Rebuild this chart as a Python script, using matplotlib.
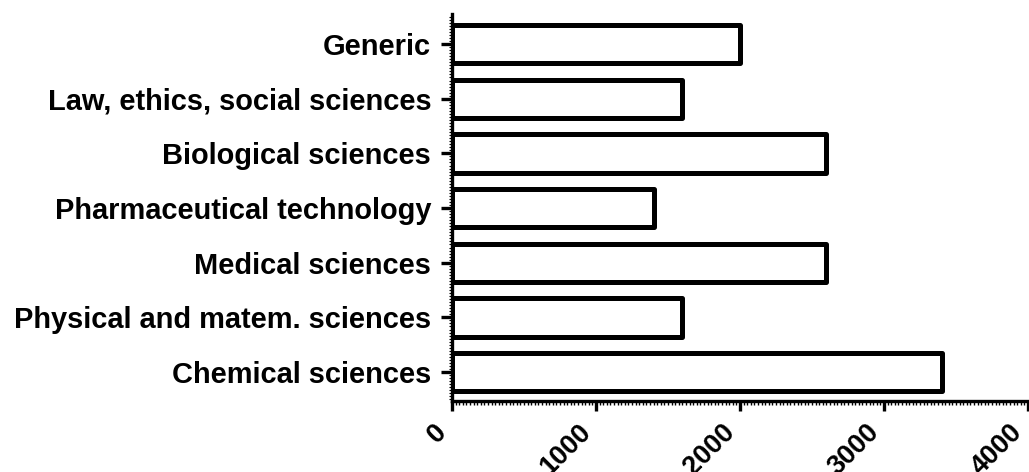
import matplotlib
matplotlib.use('Agg')
import matplotlib.pyplot as plt
from matplotlib.ticker import MultipleLocator

CATEGORIES = [
    'Chemical sciences',
    'Physical and matem. sciences',
    'Medical sciences',
    'Pharmaceutical technology',
    'Biological sciences',
    'Law, ethics, social sciences',
    'Generic',
]
VALUES = [3400, 1600, 2600, 1400, 2600, 1600, 2000]
X_TICKS = [0, 1000, 2000, 3000, 4000]

plt.rcParams['font.family'] = ['Liberation Sans', 'DejaVu Sans']
plt.rcParams['font.weight'] = 'bold'

fig = plt.figure(figsize=(10.29, 4.72), dpi=100)
ax = fig.add_axes([452 / 1029, 71 / 472, 576 / 1029, 387 / 472])

positions = list(range(len(CATEGORIES)))
bars = ax.barh(positions, VALUES, height=0.70, color='white',
               edgecolor='black', linewidth=3.6)
for b in bars:
    b.set_joinstyle('round')

ax.set_xlim(0, 4000)
ax.set_ylim(-0.53, 6.55)
ax.set_yticks(positions)
ax.set_yticklabels(CATEGORIES, fontsize=20.9, fontweight='bold')
ax.set_xticks(X_TICKS)
ax.set_xticklabels([str(t) for t in X_TICKS], fontsize=19.5, fontweight='bold',
                   rotation=45, ha='right')

ax.xaxis.set_minor_locator(MultipleLocator(25))
ax.yaxis.set_minor_locator(MultipleLocator(1 / 18))
ax.tick_params(axis='x', which='major', length=7.2, width=2.4, pad=6)
ax.tick_params(axis='x', which='minor', length=3, width=1.0)
ax.tick_params(axis='y', which='major', length=8, width=2.4, pad=7)
ax.tick_params(axis='y', which='minor', length=2, width=0.8)

for side in ['top', 'right']:
    ax.spines[side].set_visible(False)
for side in ['left', 'bottom']:
    ax.spines[side].set_linewidth(2.4)

fig.savefig('out.png', dpi=100)
